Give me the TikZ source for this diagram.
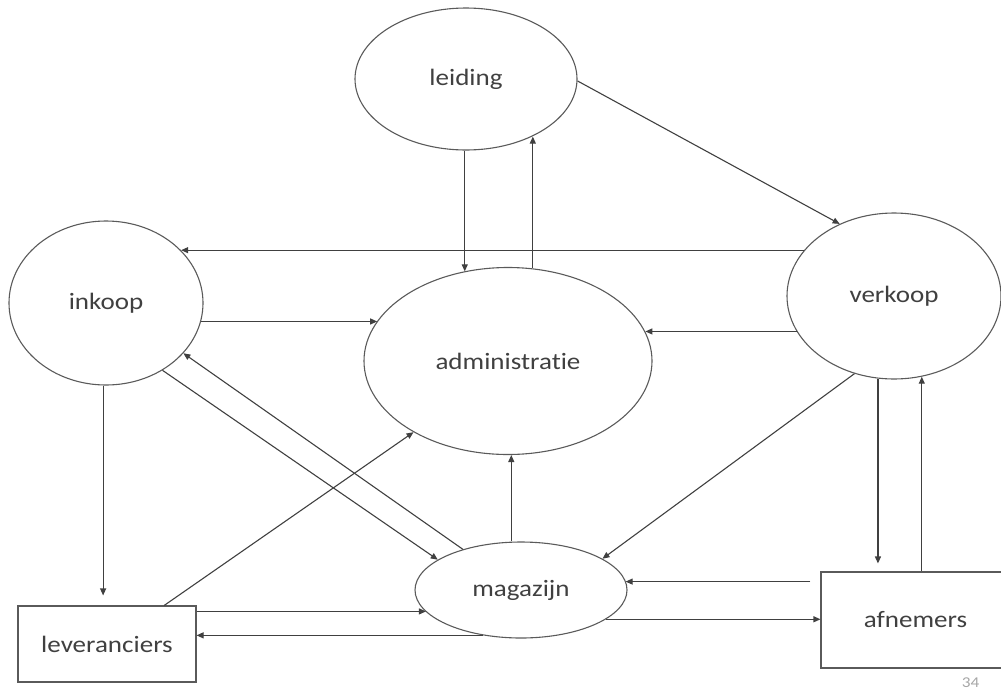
\documentclass[tikz,border=0pt]{standalone}
\usepackage{fontspec}
\setmainfont{Carlito}[FakeStretch=1.15,Ligatures=NoCommon]
\usetikzlibrary{shapes.geometric,arrows.meta}
\definecolor{inkgray}{HTML}{404040}
\definecolor{edgegray}{HTML}{5A5A5A}
\definecolor{pagegray}{HTML}{A6A6A6}
\begin{document}
\begin{tikzpicture}[x=1pt,y=-1pt,
  lbl/.style={font=\fontsize{23.5}{28}\selectfont,text=inkgray},
  dept/.style={ellipse,draw=edgegray,line width=1.1pt,inner sep=0pt,lbl},
  party/.style={rectangle,draw=edgegray,line width=1.1pt,inner sep=0pt,lbl},
  flow/.style={draw=inkgray,line width=1.1pt,-{Triangle[length=7pt,width=6pt]}}
]
\useasboundingbox (0,0) rectangle (1001,691);
\clip (0,0) rectangle (1001,691);

% departments
\node[dept,minimum width=222pt,minimum height=142pt] (L) at (466,79)  {leiding};
\node[dept,minimum width=194pt,minimum height=164pt] (I) at (106,303) {inkoop};
\node[dept,minimum width=288pt,minimum height=187pt] (A) at (508,361) {administratie};
\node[dept,minimum width=214pt,minimum height=166pt] (V) at (894,296) {verkoop};
\node[dept,minimum width=212pt,minimum height=96pt]  (M) at (521,590) {magazijn};

% outside parties
\node[party,minimum width=178pt,minimum height=76pt] (Lev) at (107,644)   {leveranciers};
\node[party,minimum width=189pt,minimum height=96pt] (Afn) at (915.5,620) {afnemers};

% page number
\node[text=pagegray,inner sep=0pt,font=\fontsize{15}{17}\selectfont] (pagenum) at (970.5,683) {34};

% leiding
\draw[flow] (L.-91) -- (L.-91 |- A.116);
\draw[flow] (A.75) -- (A.75 |- L.-41);
\draw[flow] (L.-1) -- (V.127);

% verkoop
\draw[flow] (V.153) -- (V.153 -| I.35);
\draw[flow] (V.200) -- (V.200 -| A.12);
\draw[flow] (V.243) -- (M.21);
\draw[flow,shorten >=8pt] (V.259) -- (V.259 |- Afn.north);
\draw[flow] (V.-71 |- Afn.north) -- (V.-71);

% inkoop
\draw[flow] (I.-11) -- (I.-11 -| A.163);
\draw[flow,shorten >=10pt] (I.-92) -- (I.-92 |- Lev.north);
\draw[flow] (I.-50) -- (M.160);

% magazijn
\draw[flow] (M.145) -- (I.-33);
\draw[flow] (M.90 -| A.-88) -- (A.-88);
\draw[flow] (M.230) -- (M.230 -| Lev.4);
\draw[flow] (M.-19) -- (M.-19 -| Afn.west);

% leveranciers
\draw[flow] (Lev.34) -- (A.217);
\draw[flow] (Lev.20) -- (Lev.20 -| M.193);

% afnemers
\draw[flow,shorten <=10pt] (Afn.158) -- (Afn.158 -| M.5);
\end{tikzpicture}
\end{document}
